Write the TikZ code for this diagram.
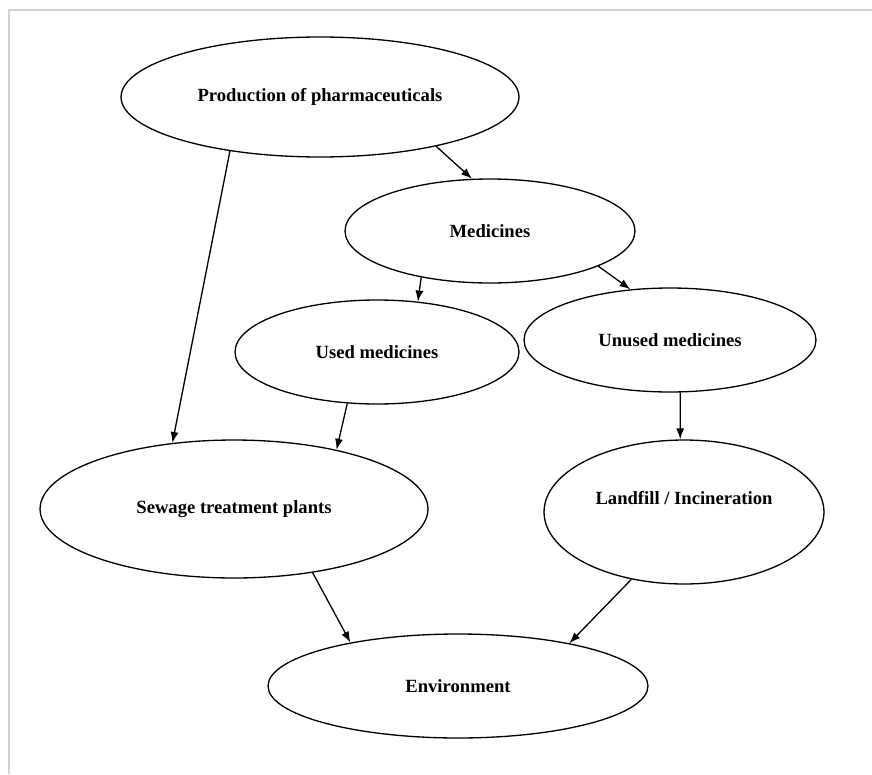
\documentclass[tikz,border=0pt]{standalone}
\usepackage{fontspec}
\setmainfont{Liberation Serif}
\usepackage{tikz}
\usetikzlibrary{shapes.geometric, arrows.meta, positioning}

\begin{document}
\begin{tikzpicture}[x=0.02cm, y=-0.02cm]
        \tikzstyle{blob} = [ellipse, draw, line width=0.75pt, inner sep=0pt,
            font=\fontsize{10.6}{12}\selectfont\bfseries]
        \tikzstyle{line} = [draw, -{Latex[length=2.2mm, width=1.6mm]}, line width=0.75pt]

        \useasboundingbox (0,0) rectangle (872,774);
        \draw [gray!35, line width=1.2pt] (9,774) -- (9,10) -- (872,10);

        \node [blob, minimum width=7.96cm, minimum height=2.4cm] (production) at (320,97) {Production of pharmaceuticals};
        \node [blob, minimum width=5.8cm, minimum height=2.08cm] (medicines) at (490,231) {Medicines};
        \node [blob, minimum width=5.68cm, minimum height=2.08cm] (used) at (377,352) {Used medicines};
        \node [blob, minimum width=5.84cm, minimum height=2.08cm] (unused) at (670,340) {Unused medicines};
        \node [blob, minimum width=7.76cm, minimum height=2.76cm] (sewage) at (234,509) {Sewage treatment plants};
        \node [blob, minimum width=5.6cm, minimum height=2.88cm] (landfill) at (684,512) {\raisebox{0.56cm}{Landfill / Incineration}};
        \node [blob, minimum width=7.6cm, minimum height=2.08cm] (environment) at (458,686) {Environment};

        \path [line] (production.211) -- (sewage.133);
        \path [line] (production.337) -- (medicines.109);
        \path [line] (medicines.214) -- (used.51);
        \path [line] (medicines.342) -- (unused.128);
        \path [line] (used.240) -- (sewage.30);
        \path [line] (unused.281) -- (landfill.93);
        \path [line] (sewage.321) -- (environment.158);
        \path [line] (landfill.232) -- (environment.21);
    \end{tikzpicture}
\end{document}
